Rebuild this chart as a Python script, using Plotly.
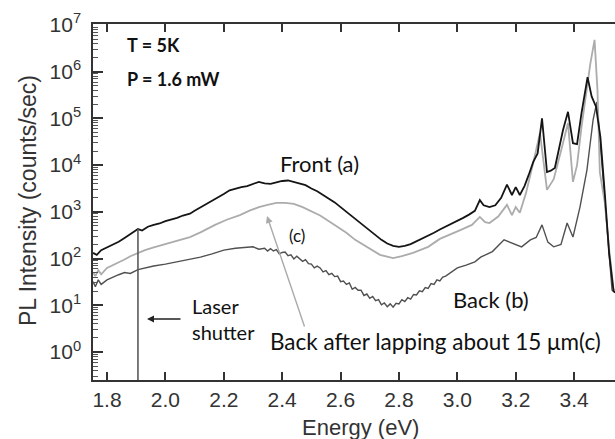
import plotly.graph_objects as go

# Photon energy (eV) and PL intensity (counts/sec) for each spectrum
energy_front = [1.752, 1.765, 1.78, 1.80, 1.82, 1.84, 1.86, 1.88, 1.906, 1.92,
                1.94, 1.96, 1.98, 2.00, 2.02, 2.04, 2.06, 2.084, 2.10, 2.12,
                2.14, 2.16, 2.18, 2.20, 2.22, 2.24, 2.26, 2.28, 2.30, 2.32,
                2.34, 2.36, 2.38, 2.40, 2.42, 2.44, 2.46, 2.48, 2.50, 2.52,
                2.54, 2.56, 2.58, 2.60, 2.62, 2.64, 2.66, 2.68, 2.70, 2.72,
                2.74, 2.76, 2.78, 2.80, 2.82, 2.84, 2.86, 2.88, 2.90, 2.92,
                2.94, 2.96, 2.98, 3.00, 3.02, 3.04, 3.06, 3.077, 3.09, 3.11,
                3.13, 3.15, 3.17, 3.187, 3.20, 3.214, 3.23, 3.245, 3.26, 3.275,
                3.29, 3.307, 3.32, 3.334, 3.35, 3.362, 3.379, 3.396, 3.41, 3.425,
                3.446, 3.46, 3.475, 3.49, 3.505, 3.52, 3.535, 3.545]
intensity_front = [132, 120, 151, 174, 204, 229, 275, 331, 427, 398,
                   479, 525, 562, 631, 676, 741, 832, 912, 1050, 1230,
                   1450, 1740, 2040, 2400, 2880, 3160, 3390, 3550, 3980, 4370,
                   4070, 3980, 4270, 4570, 4680, 4370, 3980, 3720, 3160, 2750,
                   2290, 1910, 1590, 1260, 1000, 776, 617, 479, 389, 302,
                   251, 209, 186, 178, 186, 204, 234, 263, 302, 355,
                   417, 479, 550, 631, 741, 871, 1050, 1780, 1380, 1260,
                   1380, 2000, 3800, 2290, 3390, 2290, 3550, 6310, 11700, 17800,
                   100000, 7080, 7590, 8710, 25100, 56200, 138000, 29500, 28200, 126000,
                   759000, 295000, 178000, 39800, 2510, 126, 20, 18]

energy_lapped = [1.752, 1.76, 1.77, 1.78, 1.80, 1.82, 1.84, 1.86, 1.88, 1.906,
                 1.93, 1.96, 2.00, 2.04, 2.084, 2.12, 2.17, 2.21, 2.255, 2.29,
                 2.32, 2.35, 2.38, 2.41, 2.44, 2.47, 2.50, 2.53, 2.564, 2.59,
                 2.62, 2.65, 2.69, 2.735, 2.78, 2.81, 2.848, 2.90, 2.94, 2.98,
                 3.01, 3.05, 3.077, 3.095, 3.11, 3.14, 3.17, 3.187, 3.20, 3.214,
                 3.235, 3.26, 3.283, 3.307, 3.33, 3.355, 3.379, 3.396, 3.41, 3.425,
                 3.44, 3.455, 3.47, 3.48, 3.488, 3.505, 3.52, 3.535, 3.545]
intensity_lapped = [51, 42, 56, 46, 63, 72, 83, 95, 112, 132,
                    151, 174, 204, 245, 288, 363, 525, 676, 851, 1070,
                    1260, 1410, 1550, 1550, 1480, 1260, 1020, 832, 603, 468,
                    355, 251, 178, 120, 102, 112, 132, 178, 263, 331,
                    407, 525, 776, 603, 575, 794, 1410, 851, 1260, 955,
                    2510, 11200, 49000, 2950, 5010, 20000, 79400, 4370, 10000, 63100,
                    316000, 1410000, 4790000, 398000, 7080, 1580, 158, 22, 20]

energy_back = [1.752, 1.76, 1.77, 1.78, 1.80, 1.82, 1.84, 1.86, 1.88, 1.906,
               1.93, 1.96, 2.00, 2.04, 2.08, 2.12, 2.16, 2.20, 2.24, 2.28,
               2.30, 2.32, 2.34, 2.35, 2.36, 2.37, 2.38, 2.39, 2.40, 2.41,
               2.42, 2.43, 2.44, 2.45, 2.46, 2.47, 2.48, 2.49, 2.50, 2.51,
               2.52, 2.53, 2.54, 2.55, 2.56, 2.57, 2.58, 2.59, 2.60, 2.61,
               2.62, 2.63, 2.64, 2.65, 2.66, 2.67, 2.68, 2.69, 2.70, 2.71,
               2.72, 2.73, 2.74, 2.75, 2.76, 2.77, 2.78, 2.79, 2.80, 2.81,
               2.82, 2.83, 2.84, 2.85, 2.86, 2.87, 2.88, 2.89, 2.90, 2.91,
               2.92, 2.93, 2.94, 2.95, 2.96, 2.98, 3.00, 3.03, 3.06, 3.08,
               3.12, 3.16, 3.19, 3.22, 3.25, 3.27, 3.29, 3.31, 3.33, 3.355,
               3.376, 3.396, 3.42, 3.444, 3.465, 3.478, 3.495, 3.512, 3.53, 3.545]
intensity_back = [32, 25, 35, 28, 35, 40, 45, 50, 48, 58,
                  63, 69, 76, 85, 93, 107, 126, 151, 166, 174,
                  178, 158, 166, 145, 162, 145, 155, 126, 135, 138,
                  115, 120, 98, 112, 100, 87, 95, 78, 76, 63,
                  69, 63, 52, 55, 45, 48, 41, 42, 32, 33,
                  28, 30, 22, 24, 21, 21, 16.2, 17.4, 14.1, 15.5,
                  12.6, 13.2, 10.2, 11.2, 9.3, 10.7, 9.1, 11, 10.7, 13.2,
                  12, 14.5, 13.5, 17, 16.6, 20.4, 19.5, 24, 23, 29,
                  28, 35, 33, 40, 42, 52, 63, 72, 85, 107,
                  141, 251, 214, 178, 251, 282, 525, 224, 178, 200,
                  575, 288, 1260, 7940, 93300, 224000, 11200, 479, 21, 18]

# Axis ticks
x_ticks = [1.8, 2.0, 2.2, 2.4, 2.6, 2.8, 3.0, 3.2, 3.4]
x_tick_text = ["1.8", "2.0", "2.2", "2.4", "2.6", "2.8", "3.0", "3.2", "3.4"]
y_ticks = [1, 10, 100, 1000, 1e4, 1e5, 1e6, 1e7]
y_tick_text = ["10<sup>0</sup>", "10<sup>1</sup>", "10<sup>2</sup>", "10<sup>3</sup>",
               "10<sup>4</sup>", "10<sup>5</sup>", "10<sup>6</sup>", "10<sup>7</sup>"]

# Laser shutter position and the level where its trace meets the front spectrum
shutter_energy = 1.906
shutter_top = 427

AXIS_FONT = "Liberation Sans, Arial, sans-serif"
NOTE_FONT = "Lato, Open Sans, sans-serif"

fig = go.Figure()
fig.add_trace(go.Scatter(x=energy_back, y=intensity_back, mode="lines",
                         line=dict(color="#505050", width=1.4), name="Back (b)"))
fig.add_trace(go.Scatter(x=energy_lapped, y=intensity_lapped, mode="lines",
                         line=dict(color="#acacac", width=1.8), name="(c)"))
fig.add_trace(go.Scatter(x=energy_front, y=intensity_front, mode="lines",
                         line=dict(color="#151515", width=1.8), name="Front (a)"))

# Vertical trace produced by the laser shutter
fig.add_shape(type="line", xref="x", yref="y",
              x0=shutter_energy, x1=shutter_energy, y0=10 ** -0.6, y1=shutter_top,
              line=dict(color="#5a5a5a", width=1.6))

minor_y = [m * 10 ** k for k in range(-1, 7) for m in range(2, 10)]

fig.update_layout(
    width=615, height=439,
    margin=dict(l=93, r=0, t=24, b=59),
    paper_bgcolor="white", plot_bgcolor="white",
    showlegend=False,
    xaxis=dict(range=[1.752, 3.54], tickmode="array", tickvals=x_ticks, ticktext=x_tick_text,
               ticks="inside", ticklen=8, tickwidth=1.5, tickcolor="#333",
               showline=True, linecolor="#333", linewidth=1.5, mirror="ticks",
               showgrid=False, zeroline=False,
               tickfont=dict(family=AXIS_FONT, size=21, color="#333")),
    yaxis=dict(type="log", range=[-0.6, 7.02], tickmode="array",
               tickvals=y_ticks, ticktext=y_tick_text,
               ticks="inside", ticklen=10, tickwidth=1.5, tickcolor="#333",
               showline=True, linecolor="#333", linewidth=1.5, mirror=False,
               showgrid=False, zeroline=False, ticklabelstandoff=6,
               minor=dict(tickmode="array", tickvals=minor_y, ticks="inside",
                          ticklen=5, tickwidth=1, tickcolor="#555", showgrid=False),
               tickfont=dict(family=AXIS_FONT, size=21, color="#333")),
)


def px(xp, yp):
    # pixel position on the page -> paper coordinates
    return (xp - 93) / 522, (380 - yp) / 356


def note(text, x, y, size, bold=False, color="#111"):
    fig.add_annotation(text=("<b>%s</b>" % text) if bold else text,
                       xref="paper", yref="paper", x=x, y=y,
                       xanchor="left", yanchor="middle", showarrow=False,
                       font=dict(family=NOTE_FONT, size=size, color=color))


# Axis titles
fig.add_annotation(text="PL Intensity (counts/sec)", xref="paper", yref="paper",
                   x=px(28, 0)[0], y=px(0, 201)[1], textangle=-90, showarrow=False,
                   xanchor="center", yanchor="middle",
                   font=dict(family=AXIS_FONT, size=23, color="#333"))
fig.add_annotation(text="Energy (eV)", xref="paper", yref="paper",
                   x=px(360, 0)[0], y=px(0, 427)[1], showarrow=False,
                   xanchor="center", yanchor="middle",
                   font=dict(family=AXIS_FONT, size=22, color="#333"))

note("T = 5K", *px(125, 45), 18, bold=True)
note("P = 1.6 mW", *px(125, 79), 18, bold=True)
note("Front (a)", *px(278, 163), 22)
note("(c)", *px(287, 235), 17)
note("Back (b)", *px(451, 299), 22)
note("Laser", *px(190, 306), 20)
note("shutter", *px(190, 332), 20)
note("Back after lapping about 15 \u03bcm(c)", *px(268, 341), 22.5)

# Arrow pointing at the shutter trace (tail offset in pixels)
hx, hy = px(147, 319)
fig.add_annotation(xref="paper", yref="paper", x=hx, y=hy, ax=35, ay=0,
                   axref="pixel", ayref="pixel", text="", showarrow=True,
                   arrowhead=2, arrowsize=1, arrowwidth=1.4, arrowcolor="#222")

# Arrow from the lapped-sample label to its curve
gx, gy = px(267, 216)
fig.add_annotation(xref="paper", yref="paper", x=gx, y=gy, ax=38, ay=112,
                   axref="pixel", ayref="pixel", text="", showarrow=True,
                   arrowhead=2, arrowsize=1, arrowwidth=1.4, arrowcolor="#aaa")

fig.write_html("out.html")
